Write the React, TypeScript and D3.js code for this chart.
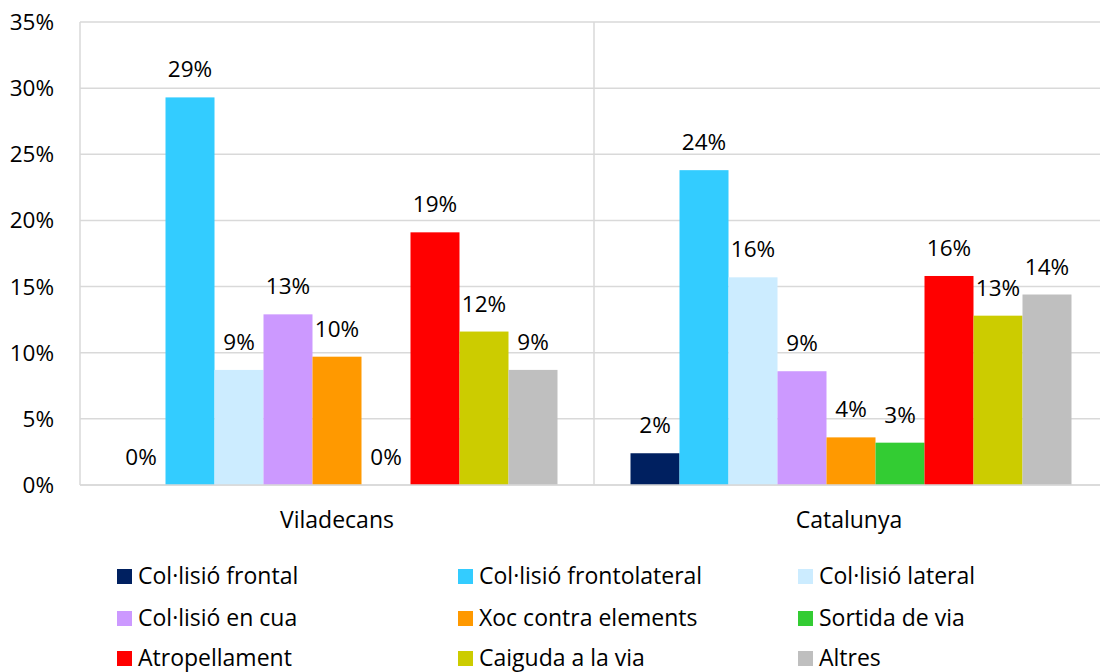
import React from "react";
import * as d3 from "d3";

const categories = ["Viladecans", "Catalunya"];
const seriesNames = [
  "Col·lisió frontal",
  "Col·lisió frontolateral",
  "Col·lisió lateral",
  "Col·lisió en cua",
  "Xoc contra elements",
  "Sortida de via",
  "Atropellament",
  "Caiguda a la via",
  "Altres",
];
const seriesColors = ["#002060", "#33CCFF", "#CCECFF", "#CC99FF", "#FF9900", "#33CC33", "#FF0000", "#CCCC00", "#BFBFBF"];
const viladecansValues = [0, 29.3, 8.7, 12.9, 9.7, 0, 19.1, 11.6, 8.7];
const catalunyaValues = [2.4, 23.8, 15.7, 8.6, 3.6, 3.2, 15.8, 12.8, 14.4];
const yTicks = [0, 5, 10, 15, 20, 25, 30, 35];

const W = 1100;
const H = 672;
const FONT = "'Open Sans', Lato, sans-serif";
const FS = 22.5;
const FL = 23;

export default function App() {
  const left = 80, right = 1108, top = 22, bottom = 485;
  const x0 = d3.scaleBand().domain(categories).range([left, right]).paddingInner(0).paddingOuter(0);
  const x1 = d3.scaleBand().domain(seriesNames).range([0, x0.bandwidth()]).paddingInner(0).paddingOuter(0.745);
  const y = d3.scaleLinear().domain([0, 35]).range([bottom, top]);
  const data = [viladecansValues, catalunyaValues];
  const grid = "#d9d9d9";

  return (
    <svg width={W} height={H} style={{ position: "absolute", left: 0, top: 0, background: "#fff" }}>
      {yTicks.map((t) => (
        <g key={t}>
          <line x1={left} x2={right} y1={y(t)} y2={y(t)} stroke={grid} strokeWidth={1.5} />
          <text x={54} y={y(t) + 8} textAnchor="end" fontFamily={FONT} fontSize={FS} fill="#000">
            {t}%
          </text>
        </g>
      ))}
      <line x1={left} x2={left} y1={top} y2={bottom} stroke={grid} strokeWidth={1.5} />
      {categories.slice(1).map((c) => (
        <line key={c} x1={x0(c)!} x2={x0(c)!} y1={top} y2={bottom} stroke={grid} strokeWidth={1.5} />
      ))}
      {categories.map((c, ci) => (
        <g key={c}>
          {seriesNames.map((s, si) => {
            const v = data[ci][si];
            const bx = x0(c)! + x1(s)!;
            return (
              <g key={s}>
                <rect x={bx} y={y(v)} width={x1.bandwidth()} height={bottom - y(v)} fill={seriesColors[si]} />
                <text x={bx + x1.bandwidth() / 2} y={y(v) - 20} textAnchor="middle" fontFamily={FONT} fontSize={FS} fill="#000">
                  {Math.round(v)}%
                </text>
              </g>
            );
          })}
          <text x={x0(c)! + x0.bandwidth() / 2 - (ci === 1 ? 2 : 0)} y={528} textAnchor="middle" fontFamily={FONT} fontSize={FL} fill="#000">
            {c}
          </text>
        </g>
      ))}
      <line x1={left} x2={right} y1={bottom} y2={bottom} stroke={grid} strokeWidth={1.5} />
      {seriesNames.map((s, i) => {
        const col = i % 3;
        const row = Math.floor(i / 3);
        const lx = [117, 458, 798][col];
        const ly = [584, 626, 666][row];
        return (
          <g key={s}>
            <rect x={lx} y={ly - 15} width={15} height={15} fill={seriesColors[i]} />
            <text x={lx + 21} y={ly} fontFamily={FONT} fontSize={FL} fill="#000">
              {s}
            </text>
          </g>
        );
      })}
    </svg>
  );
}
